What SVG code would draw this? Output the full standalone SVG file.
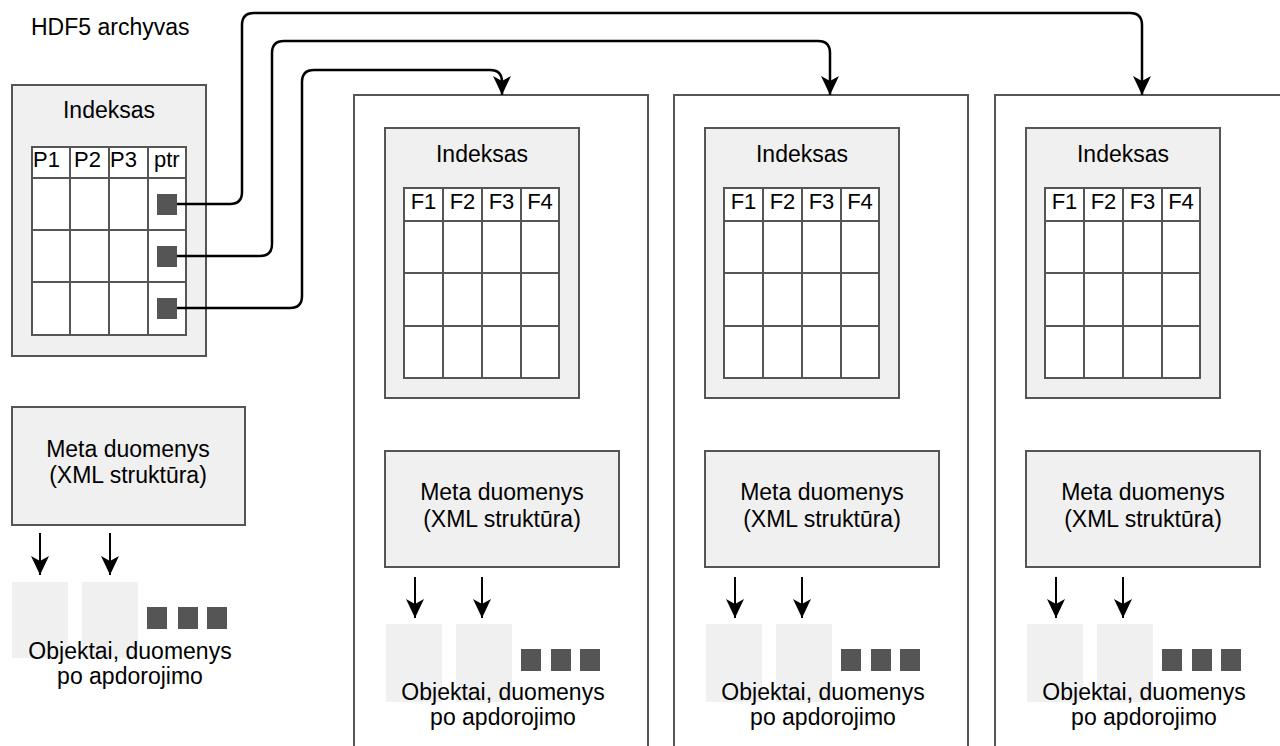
<svg xmlns="http://www.w3.org/2000/svg" width="1280" height="746" viewBox="0 0 1280 746">
<defs>
<style>
text{font-family:"Liberation Sans",Arial,Helvetica,sans-serif;fill:#000;}
.t{font-size:23px;text-anchor:middle;}
.h{font-size:22px;}
.hc{font-size:22px;text-anchor:middle;}
.box{fill:#f0f0f0;stroke:#555;stroke-width:2;}
.panel{fill:#fff;stroke:#555;stroke-width:2;}
.tbl{fill:#fff;stroke:#555;stroke-width:2;}
.grid{stroke:#555;stroke-width:2;fill:none;}
.obj{fill:#f0f0f0;stroke:none;}
.sq{fill:#555;stroke:none;}
.conn{fill:none;stroke:#000;stroke-width:2.5;}
.arr{fill:none;stroke:#000;stroke-width:2;}
</style>
<marker id="ah" viewBox="0 0 20 20" markerWidth="20" markerHeight="20" refX="19" refY="10" orient="auto" markerUnits="userSpaceOnUse">
<path d="M0,1 L19,10 L0,19 L5,10 z" fill="#000"/>
</marker>
</defs>
<rect width="1280" height="746" fill="#fff"/>

<g id="title"><text x="31" y="35" class="h" style="font-size:23px">HDF5 archyvas</text></g>

<g id="main-index">
<rect class="box" x="12" y="85" width="194" height="271"/>
<text class="t" x="109" y="118">Indeksas</text>
<rect class="tbl" x="32" y="147" width="154" height="188"/>
<path class="grid" d="M32,178H186M32,230H186M32,282H186M70,147V335M109,147V335M148,147V335"/>
<text class="h" x="33" y="167">P1</text>
<text class="h" x="74" y="167">P2</text>
<text class="h" x="110" y="167">P3</text>
<text class="h" x="154" y="167">ptr</text>
<rect class="sq" x="157" y="194" width="20" height="21"/>
<rect class="sq" x="157" y="246" width="20" height="21"/>
<rect class="sq" x="157" y="298" width="20" height="21"/>
</g>

<g id="main-meta">
<rect class="box" x="12" y="407" width="233" height="118"/>
<text class="t" x="128" y="457">Meta duomenys</text>
<text class="t" x="128" y="483">(XML struktūra)</text>
</g>

<g id="main-objects">
<rect class="obj" x="12" y="582" width="56" height="76"/>
<rect class="obj" x="82" y="582" width="56" height="76"/>
<rect class="sq" x="147" y="607" width="20" height="22"/>
<rect class="sq" x="178" y="607" width="20" height="22"/>
<rect class="sq" x="207" y="607" width="20" height="22"/>
<text class="t" x="130" y="659">Objektai, duomenys</text>
<text class="t" x="130" y="684">po apdorojimo</text>
</g>

<g id="panel1">
<rect class="panel" x="354" y="95" width="294" height="700"/>
<g id="panel1-index">
<rect class="box" x="385" y="128" width="194" height="270"/>
<text class="t" x="482" y="162">Indeksas</text>
<rect class="tbl" x="404" y="188" width="155" height="190"/>
<path class="grid" d="M404,221H559M404,273H559M404,326H559M443,188V378M482,188V378M521,188V378"/>
<text class="hc" x="423.5" y="209">F1</text>
<text class="hc" x="462.5" y="209">F2</text>
<text class="hc" x="501.5" y="209">F3</text>
<text class="hc" x="540" y="209">F4</text>
</g>
<g id="panel1-meta">
<rect class="box" x="385" y="451" width="234" height="116"/>
<text class="t" x="502" y="500">Meta duomenys</text>
<text class="t" x="502" y="527">(XML struktūra)</text>
</g>
<g id="panel1-objects">
<rect class="obj" x="386" y="624" width="56" height="78"/>
<rect class="obj" x="456" y="624" width="56" height="78"/>
<rect class="sq" x="521" y="649" width="20" height="22"/>
<rect class="sq" x="551" y="649" width="20" height="22"/>
<rect class="sq" x="580" y="649" width="20" height="22"/>
<text class="t" x="503" y="700">Objektai, duomenys</text>
<text class="t" x="503" y="725">po apdorojimo</text>
</g>
</g>

<g id="panel2" transform="translate(320,0)">
<rect class="panel" x="354" y="95" width="294" height="700"/>
<g id="panel2-index">
<rect class="box" x="385" y="128" width="194" height="270"/>
<text class="t" x="482" y="162">Indeksas</text>
<rect class="tbl" x="404" y="188" width="155" height="190"/>
<path class="grid" d="M404,221H559M404,273H559M404,326H559M443,188V378M482,188V378M521,188V378"/>
<text class="hc" x="423.5" y="209">F1</text>
<text class="hc" x="462.5" y="209">F2</text>
<text class="hc" x="501.5" y="209">F3</text>
<text class="hc" x="540" y="209">F4</text>
</g>
<g id="panel2-meta">
<rect class="box" x="385" y="451" width="234" height="116"/>
<text class="t" x="502" y="500">Meta duomenys</text>
<text class="t" x="502" y="527">(XML struktūra)</text>
</g>
<g id="panel2-objects">
<rect class="obj" x="386" y="624" width="56" height="78"/>
<rect class="obj" x="456" y="624" width="56" height="78"/>
<rect class="sq" x="521" y="649" width="20" height="22"/>
<rect class="sq" x="551" y="649" width="20" height="22"/>
<rect class="sq" x="580" y="649" width="20" height="22"/>
<text class="t" x="503" y="700">Objektai, duomenys</text>
<text class="t" x="503" y="725">po apdorojimo</text>
</g>
</g>

<g id="panel3" transform="translate(641,0)">
<rect class="panel" x="354" y="95" width="294" height="700"/>
<g id="panel3-index">
<rect class="box" x="385" y="128" width="194" height="270"/>
<text class="t" x="482" y="162">Indeksas</text>
<rect class="tbl" x="404" y="188" width="155" height="190"/>
<path class="grid" d="M404,221H559M404,273H559M404,326H559M443,188V378M482,188V378M521,188V378"/>
<text class="hc" x="423.5" y="209">F1</text>
<text class="hc" x="462.5" y="209">F2</text>
<text class="hc" x="501.5" y="209">F3</text>
<text class="hc" x="540" y="209">F4</text>
</g>
<g id="panel3-meta">
<rect class="box" x="385" y="451" width="234" height="116"/>
<text class="t" x="502" y="500">Meta duomenys</text>
<text class="t" x="502" y="527">(XML struktūra)</text>
</g>
<g id="panel3-objects">
<rect class="obj" x="386" y="624" width="56" height="78"/>
<rect class="obj" x="456" y="624" width="56" height="78"/>
<rect class="sq" x="521" y="649" width="20" height="22"/>
<rect class="sq" x="551" y="649" width="20" height="22"/>
<rect class="sq" x="580" y="649" width="20" height="22"/>
<text class="t" x="503" y="700">Objektai, duomenys</text>
<text class="t" x="503" y="725">po apdorojimo</text>
</g>
</g>

<g id="connectors">
<path class="conn" marker-end="url(#ah)" d="M177,204H230Q242,204 242,192V25Q242,13 254,13H1130Q1142,13 1142,25V95"/>
<path class="conn" marker-end="url(#ah)" d="M177,256H260Q272,256 272,244V53Q272,41 284,41H818Q830,41 830,53V95"/>
<path class="conn" marker-end="url(#ah)" d="M177,308H290Q302,308 302,296V82Q302,70 314,70H490Q502,70 502,82V95"/>
<path class="arr" marker-end="url(#ah)" d="M40,533V575"/>
<path class="arr" marker-end="url(#ah)" d="M110,533V575"/>
<path class="arr" marker-end="url(#ah)" d="M415,577V618"/>
<path class="arr" marker-end="url(#ah)" d="M482,577V618"/>
<path class="arr" marker-end="url(#ah)" d="M735,577V618"/>
<path class="arr" marker-end="url(#ah)" d="M802,577V618"/>
<path class="arr" marker-end="url(#ah)" d="M1056,577V618"/>
<path class="arr" marker-end="url(#ah)" d="M1123,577V618"/>
</g>
</svg>
